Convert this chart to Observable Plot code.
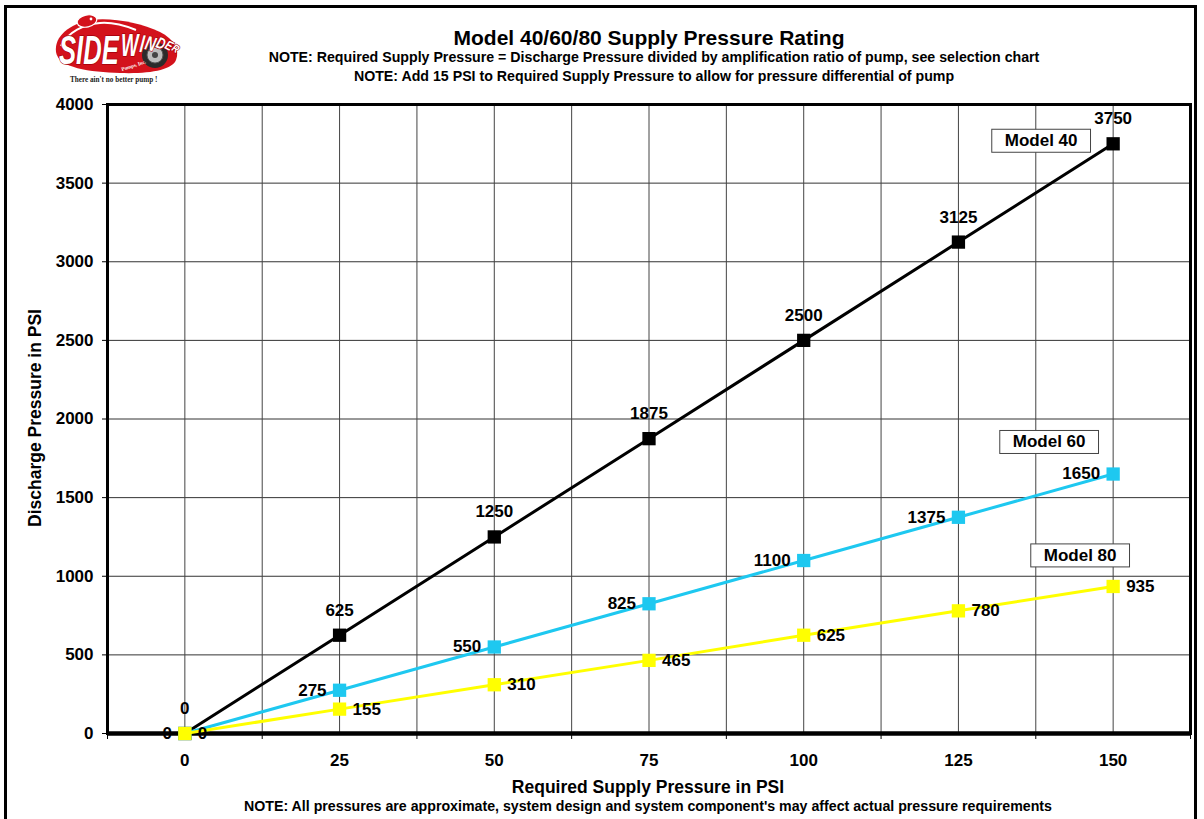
<!DOCTYPE html>
<html>
<head>
<meta charset="utf-8">
<script src="https://cdn.jsdelivr.net/npm/d3@7"></script>
<script src="https://cdn.jsdelivr.net/npm/@observablehq/plot@0.6"></script>
<style>
  html, body { margin: 0; padding: 0; background: #fff; }
  #page {
    position: relative; width: 1204px; height: 819px; overflow: hidden;
    font-family: "Liberation Sans", Arial, sans-serif; font-weight: bold; color: #000;
  }
  #border {
    position: absolute; left: 4px; top: 5px; width: 1193px; height: 840px;
    border: 3px solid #000; box-sizing: border-box;
  }
  .t { position: absolute; white-space: nowrap; text-align: center; }
  #title { left: 94px; width: 1110px; top: 27px; font-size: 21px; line-height: 22px; }
  #note1 { left: 104px; width: 1100px; top: 49px; font-size: 14.2px; line-height: 16px; }
  #note2 { left: 104px; width: 1100px; top: 68px; font-size: 14.2px; line-height: 16px; }
  #xtitle { left: 98px; width: 1100px; top: 777px; font-size: 17.5px; line-height: 20px; }
  #footnote { left: 98px; width: 1100px; top: 798px; font-size: 14.2px; line-height: 16px; }
  #ytitle {
    left: 35px; top: 418px; font-size: 17.5px; line-height: 20px;
    transform: translate(-50%, -50%) rotate(-90deg);
  }
  #chart { position: absolute; left: 0; top: 90px; }
  #logo { position: absolute; left: 40px; top: 8px; }
  #logo .lt { font-family: "Liberation Sans", Arial, sans-serif; font-style: italic; font-weight: bold;
              fill: #fff; stroke: #a5000a; stroke-width: 1.4px; paint-order: stroke; }
</style>
</head>
<body>
<div id="page">
  <div id="border"></div>
  <svg id="logo" width="150" height="82" viewBox="0 0 150 82">
    <path d="M16,44 C14,28 30,16 50,12 C70,9 100,14 120,24 C134,31 140,42 136,52 C132,62 110,66 80,65 C50,64 18,60 16,44 Z" fill="#d3121c"/>
    <path d="M21,38 C28,24 44,16 60,15 C72,14 86,18 96,22" fill="none" stroke="#fff" stroke-width="2"/>
    <ellipse cx="47" cy="13" rx="10" ry="6" fill="#d3121c" stroke="#fff" stroke-width="1.2" transform="rotate(-12 47 13)"/>
    <circle cx="51" cy="11" r="1.4" fill="#fff"/>
    <circle cx="115" cy="47" r="13" fill="#2b2b2b"/>
    <circle cx="115" cy="47" r="8" fill="#bdbdbd" stroke="#555" stroke-width="1"/>
    <circle cx="115" cy="47" r="3" fill="#444"/>
    <text class="lt" font-size="40" transform="translate(19,56) scale(0.64,1)">SIDE</text>
    <text class="lt" font-size="32" transform="translate(81,48) scale(0.58,1)">W</text>
    <text class="lt" font-size="25" transform="translate(99,44) rotate(8) scale(0.6,1)">I</text>
    <text class="lt" font-size="20" transform="translate(104,41) rotate(14) scale(0.7,1)">N</text>
    <text class="lt" font-size="16" transform="translate(115,39) rotate(20) scale(0.75,1)">D</text>
    <text class="lt" font-size="13" transform="translate(124,40) rotate(26) scale(0.8,1)">E</text>
    <text class="lt" font-size="11" transform="translate(131,42) rotate(32) scale(0.8,1)">R</text>
    <text x="82" y="63" font-family="Liberation Serif, serif" font-size="5" font-weight="bold" fill="#fff" transform="rotate(-18 82 63)">Pumps, Inc.</text>
    <text x="30" y="74" font-family="Liberation Serif, serif" font-size="7.2" fill="#222">There ain't no better pump !</text>
  </svg>
  <div class="t" id="title">Model 40/60/80 Supply Pressure Rating</div>
  <div class="t" id="note1">NOTE: Required Supply Pressure = Discharge Pressure divided by amplification ratio of pump, see selection chart</div>
  <div class="t" id="note2">NOTE: Add 15 PSI to Required Supply Pressure to allow for pressure differential of pump</div>
  <div class="t" id="ytitle">Discharge Pressure in PSI</div>
  <div id="chart"></div>
  <div class="t" id="xtitle">Required Supply Pressure in PSI</div>
  <div class="t" id="footnote">NOTE: All pressures are approximate, system design and system component's may affect actual pressure requirements</div>
</div>
<script>
// Required supply pressure (PSI) categories along the x axis
const supplyPsi = [0, 25, 50, 75, 100, 125, 150];
// Discharge pressure (PSI) for each pump model
const model40 = [0, 625, 1250, 1875, 2500, 3125, 3750];
const model60 = [0, 275, 550, 825, 1100, 1375, 1650];
const model80 = [0, 155, 310, 465, 625, 780, 935];
const seriesNames = ["Model 40", "Model 60", "Model 80"];
const seriesColors = ["#000000", "#1EC8F0", "#FFFF00"];
// Axis ticks
const yTicks = [0, 500, 1000, 1500, 2000, 2500, 3000, 3500, 4000];
const xGridTicks = [-12.5, 0, 12.5, 25, 37.5, 50, 62.5, 75, 87.5, 100, 112.5, 125, 137.5, 150, 162.5];
const xBoundaryTicks = [-12.5, 12.5, 37.5, 62.5, 87.5, 112.5, 137.5, 162.5];

const seriesValues = [model40, model60, model80];
const rows = seriesValues.map((vals, s) =>
  supplyPsi.map((x, i) => ({x, v: vals[i], series: seriesNames[s]})));
const lastRows = rows.map(r => [r[r.length - 1]]);

const FS = 17;

const lineAndDots = (s) => [
  Plot.line(rows[s], {x: "x", y: "v", stroke: seriesColors[s], strokeWidth: 3}),
  Plot.dot(rows[s], {x: "x", y: "v", symbol: "square", r: 7.5, fill: seriesColors[s], stroke: "none"})
];

const boxLabel = (s, dx, dy) =>
  Plot.text(lastRows[s], {x: "x", y: "v", text: "series", dx, dy, fill: "#000",
    fontSize: FS, fontWeight: "bold"});

const chart = Plot.plot({
  width: 1204,
  height: 683,
  marginLeft: 107,
  marginRight: 14,
  marginTop: 14,
  marginBottom: 40,
  style: {fontFamily: "Liberation Sans, Arial, sans-serif", fontSize: FS + "px", fontWeight: "bold", color: "#000", background: "transparent", overflow: "visible"},
  x: {domain: [-12.5, 162.5]},
  y: {domain: [0, 4000]},
  marks: [
    Plot.gridY({ticks: yTicks, stroke: "#333", strokeOpacity: 1, strokeWidth: 1}),
    Plot.gridX({ticks: xGridTicks, stroke: "#444", strokeOpacity: 1, strokeWidth: 1}),
    Plot.frame({stroke: "#000", strokeWidth: 3}),
    Plot.ruleY([0], {stroke: "#000", strokeWidth: 4.5}),
    Plot.axisY({ticks: yTicks, tickFormat: d => String(d), tickSize: 5, tickPadding: 9, label: null, fontSize: FS, fontWeight: "bold", stroke: "#000"}),
    Plot.axisX({ticks: supplyPsi, tickFormat: d => String(d), tickSize: 0, tickPadding: 20, label: null, fontSize: FS, fontWeight: "bold"}),
    Plot.axisX({ticks: xBoundaryTicks, tickSize: 6, tickFormat: () => "", label: null, stroke: "#000"}),
    ...lineAndDots(0),
    ...lineAndDots(1),
    ...lineAndDots(2),
    // value labels
    Plot.text(rows[0], {x: "x", y: "v", text: d => String(d.v), dy: -25, fontSize: FS, fontWeight: "bold", fill: "#000"}),
    Plot.text(rows[1], {x: "x", y: "v", text: d => String(d.v), dx: -13, textAnchor: "end", fontSize: FS, fontWeight: "bold", fill: "#000"}),
    Plot.text(rows[2], {x: "x", y: "v", text: d => String(d.v), dx: 13, textAnchor: "start", fontSize: FS, fontWeight: "bold", fill: "#000"}),
    // series name boxes
    boxLabel(0, -72, -3),
    boxLabel(1, -64, -32),
    boxLabel(2, -33, -31)
  ]
});

document.getElementById("chart").append(chart);

// Put a white bordered box behind each series name
chart.querySelectorAll("text").forEach(t => {
  if (!seriesNames.includes(t.textContent)) return;
  const bb = t.getBBox();
  const rect = document.createElementNS("http://www.w3.org/2000/svg", "rect");
  rect.setAttribute("x", bb.x - 13);
  rect.setAttribute("y", bb.y - 2);
  rect.setAttribute("width", bb.width + 26);
  rect.setAttribute("height", bb.height + 4);
  rect.setAttribute("fill", "#fff");
  rect.setAttribute("stroke", "#444");
  rect.setAttribute("stroke-width", "1");
  const tr = t.getAttribute("transform");
  if (tr) rect.setAttribute("transform", tr);
  t.parentNode.insertBefore(rect, t);
});
</script>
</body>
</html>
